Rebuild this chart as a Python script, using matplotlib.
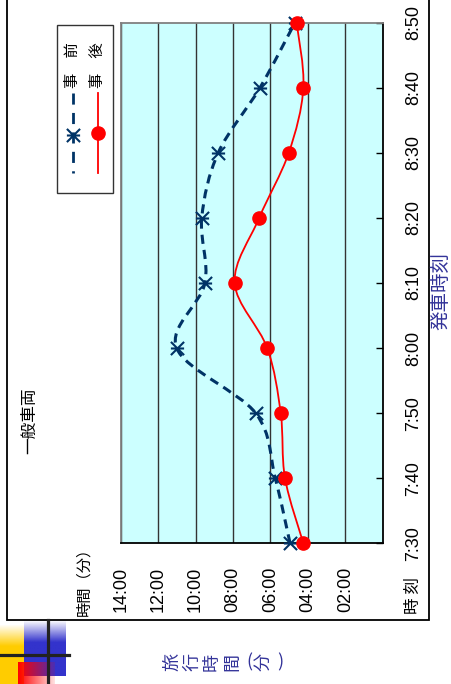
import numpy as np
import matplotlib
matplotlib.use('Agg')
import matplotlib.pyplot as plt
from matplotlib.path import Path
from matplotlib.patches import PathPatch, Rectangle
from matplotlib.lines import Line2D

plt.rcParams['font.family'] = ['Liberation Sans', 'Noto Sans CJK JP']
JP = ['Noto Sans CJK JP', 'DejaVu Sans']

# departure time (minutes after 7:30) and travel time (minutes)
depart = [0, 10, 20, 30, 40, 50, 60, 70, 80]
depart_labels = ['7:30', '7:40', '7:50', '8:00', '8:10', '8:20', '8:30', '8:40', '8:50']
before = [4.95, 5.74, 6.79, 11.01, 9.50, 9.67, 8.79, 6.56, 4.69]
after = [4.24, 5.22, 5.45, 6.17, 7.91, 6.60, 5.02, 4.24, 4.60]
travel_ticks = [14, 12, 10, 8, 6, 4, 2]
travel_labels = ['14:00', '12:00', '10:00', '08:00', '06:00', '04:00', '02:00']

NAVY = '#003366'
TXTBLUE = '#333399'
W, H = 451, 684


def box(x0, y0, x1, y1):
    # pixel box measured from the top-left corner -> figure fraction
    return [x0 / W, 1 - y1 / H, (x1 - x0) / W, (y1 - y0) / H]


def smooth(xs, ys):
    # Catmull-Rom style smoothing turned into cubic bezier segments
    pts = np.column_stack([xs, ys]).astype(float)
    n = len(pts)
    verts = [pts[0]]
    codes = [Path.MOVETO]
    for i in range(n - 1):
        p0 = pts[i - 1] if i > 0 else pts[i]
        p1, p2 = pts[i], pts[i + 1]
        p3 = pts[i + 2] if i + 2 < n else pts[i + 1]
        verts += [p1 + (p2 - p0) / 6, p2 - (p3 - p1) / 6, p2]
        codes += [Path.CURVE4] * 3
    return Path(verts, codes)


star = Path([(-1, -1), (1, 1), (-1, 1), (1, -1), (-1, 0), (1, 0)],
            [Path.MOVETO, Path.LINETO, Path.MOVETO, Path.LINETO, Path.MOVETO, Path.LINETO])

fig = plt.figure(figsize=(W / 100, H / 100), dpi=100)

# overlay in pixel units for frame, titles, legend and corner ornament
ov = fig.add_axes([0, 0, 1, 1])
ov.set_xlim(0, W)
ov.set_ylim(H, 0)
ov.axis('off')

ov.add_patch(Rectangle((7, -5), 422, 625, fill=False, ec='black', lw=1.3))

# corner ornament
yel = np.zeros((64, 2, 4))
yel[..., :3] = matplotlib.colors.to_rgb('#ffcc00')
yel[..., 3] = np.clip((np.linspace(620, 684, 64)[:, None] - 624) / 22, 0, 1)
ov.imshow(yel, extent=(0, 24, 684, 620), aspect='auto', zorder=1)
blu = np.zeros((64, 2, 4))
blu[..., :3] = matplotlib.colors.to_rgb('#3333cc')
blu[..., 3] = np.clip((np.linspace(620, 676, 64)[:, None] - 620) / 22, 0, 1)
ov.imshow(blu, extent=(24, 66, 676, 620), aspect='auto', zorder=1)
red = np.zeros((2, 64, 4))
red[..., 0] = 1
red[..., 3] = np.linspace(1, 0.12, 64)[None, :]
ov.imshow(red, extent=(18, 55, 684, 662), aspect='auto', zorder=2)
ov.plot([47.7, 47.7], [620, 684], color='#222222', lw=2.3, zorder=3)
ov.plot([0, 69], [655, 655], color='#222222', lw=2.3, zorder=3)

# titles and axis captions
ov.text(30, 421, '一般車両', rotation=90, ha='center', va='center', fontsize=12, family=JP)
ov.text(84, 578, '時間（分）', rotation=90, ha='center', va='center', fontsize=11, family=JP)
ov.text(413, 596, '時 刻', rotation=90, ha='center', va='center', fontsize=12, family=JP)
ov.text(441, 291, '発車時刻', rotation=90, ha='center', va='center', fontsize=14,
        color=TXTBLUE, family=JP)
xpos = 172
for ch in '旅行時間(分)':
    if ch in '()':
        xpos -= 3
        ov.text(xpos, 662, ch, ha='center', va='center', fontsize=13, color=TXTBLUE, family=JP)
        xpos += 14
    else:
        ov.text(xpos, 662, ch, rotation=90, ha='center', va='center', fontsize=13,
                color=TXTBLUE, family=JP)
        xpos += 20

# legend
ov.add_patch(Rectangle((57.3, 25), 55.4, 168, fill=False, ec='#333333', lw=1))
ov.add_line(Line2D([72.7, 72.7], [93, 173], color=NAVY, lw=2, dashes=(4, 3)))
ov.add_line(Line2D([72.7], [135], color=NAVY, marker=star, ms=9.5, mew=1.5, ls='none'))
ov.add_line(Line2D([97.7, 97.7], [93, 173], color='red', lw=1.3))
ov.add_line(Line2D([97.7], [133], color='red', marker='o', ms=9.5, ls='none'))
ov.text(72.7, 65, '事　前', rotation=90, ha='center', va='center', fontsize=11, family=JP)
ov.text(97.7, 65, '事　後', rotation=90, ha='center', va='center', fontsize=11, family=JP)

# main chart: travel time runs right-to-left, departure time bottom-to-top
ax = fig.add_axes(box(120.7, 22.7, 382.7, 543.3), zorder=2)
ax.set_facecolor('#ccffff')
ax.set_xlim(14, 0)
ax.set_ylim(0, 80)

ax.set_xticks(travel_ticks)
ax.set_xticklabels(travel_labels)
ax.tick_params(axis='x', length=0, pad=17, labelsize=13, labelrotation=90)
ax.grid(axis='x', color='#333333', lw=1)
ax.set_axisbelow(True)

ax.set_yticks(depart)
ax.set_yticklabels(depart_labels)
ax.tick_params(axis='y', left=False, right=True, labelleft=False, labelright=True,
               direction='in', length=5, width=1, pad=16, labelsize=13, labelrotation=90)
for t in ax.yaxis.get_major_ticks():
    t.label2.set_va('center')

for side, col in (('top', '#808080'), ('left', '#808080'), ('bottom', 'black'), ('right', 'black')):
    ax.spines[side].set_color(col)
    ax.spines[side].set_linewidth(1.3)

ax.add_patch(PathPatch(smooth(before, depart), fill=False, ec=NAVY, lw=2.2,
                       linestyle=(0, (3, 2)), zorder=3))
ax.plot(before, depart, ls='none', marker=star, ms=9.5, mew=1.5, color=NAVY,
        clip_on=False, zorder=4)
ax.add_patch(PathPatch(smooth(after, depart), fill=False, ec='red', lw=1.3, zorder=5))
ax.plot(after, depart, ls='none', marker='o', ms=9.5, color='red', clip_on=False, zorder=6)

fig.savefig('out.png', dpi=100)
